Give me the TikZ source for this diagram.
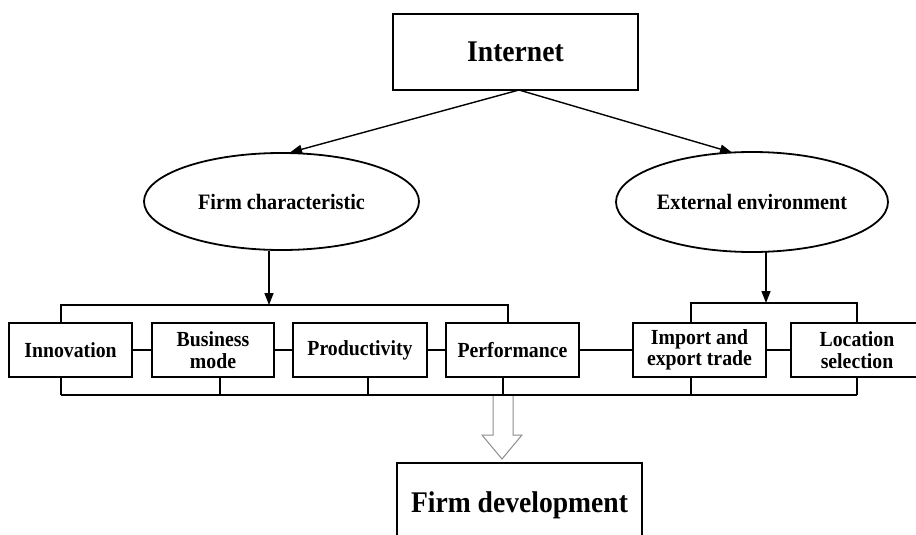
\documentclass[tikz,border=0pt]{standalone}
\usepackage{fontspec}
\setmainfont{Liberation Serif}[FakeStretch=0.92]
\usetikzlibrary{shapes.geometric,arrows.meta}
\tikzset{
  box/.style={draw, line width=2pt, rectangle, inner sep=0pt, align=center,
    font=\fontsize{21.5}{21.5}\selectfont\bfseries},
  bigbox/.style={draw, line width=2pt, rectangle, inner sep=0pt, align=center,
    font=\fontsize{30}{32}\selectfont\bfseries},
  oval/.style={draw, line width=1.8pt, ellipse, inner sep=0pt,
    font=\fontsize{22}{24}\selectfont\bfseries},
  link/.style={line width=1.5pt},
  arr/.style={line width=1.4pt, -{Triangle[length=12pt,width=9pt]}},
  hollow/.style={draw=black!45, line width=1pt, fill=white}
}
\begin{document}
\begin{tikzpicture}[x=1pt,y=-1pt]
\useasboundingbox (0,0) rectangle (916,535);
% top nodes
\node[bigbox, minimum width=245pt, minimum height=76pt] (internet) at (515.5,52) {Internet};
\node[oval, minimum width=275pt, minimum height=97pt] (fc) at (281.5,201.5) {Firm characteristic};
\node[oval, minimum width=272pt, minimum height=100pt] (ee) at (752,202) {External environment};
% row of boxes
\node[box, minimum width=123pt, minimum height=54pt] (innov) at (70.5,350) {Innovation};
\node[box, minimum width=122pt, minimum height=54pt] (bm) at (213,350) {Business\\mode};
\node[box, minimum width=134pt, minimum height=54pt] (prod) at (360,350) {Productivity};
\node[box, minimum width=133pt, minimum height=54pt] (perf) at (512.5,350) {Performance};
\node[box, minimum width=133pt, minimum height=54pt] (iet) at (699.5,350) {Import and\\export trade};
\node[box, minimum width=132pt, minimum height=54pt] (loc) at (857,350) {Location\\selection};
% bottom node
\node[bigbox, minimum width=245pt, minimum height=84pt] (fd) at (519.5,505) {\raisebox{4pt}{Firm development}};
% coordinates
\coordinate (ito) at (519,90);
\coordinate (fcin) at (290,152.5);
\coordinate (eein) at (732,152.5);
\coordinate (fcout) at (269,250.5);
\coordinate (fcbr) at (269,305);
\coordinate (eeout) at (766,252);
\coordinate (eebr) at (766,303);
\coordinate (tl1) at (61,305);
\coordinate (tl2) at (508,305);
\coordinate (tr1) at (691,303);
\coordinate (tr2) at (857,303);
\coordinate (b1) at (61,395);
\coordinate (b2) at (857,395);
% arrows from Internet
\draw[arr] (ito) -- (fcin);
\draw[arr] (ito) -- (eein);
\draw[arr] (fcout) -- (fcbr);
\draw[arr] (eeout) -- (eebr);
% top brackets
\draw[link] (innov.north -| tl1) -- (tl1) -- (tl2) -- (perf.north -| tl2);
\draw[link] (iet.north -| tr1) -- (tr1) -- (tr2) -- (loc.north -| tr2);
% side connectors
\draw[link] (innov.east) -- (bm.west);
\draw[link] (bm.east) -- (prod.west);
\draw[link] (prod.east) -- (perf.west);
\draw[link] (perf.east) -- (iet.west);
\draw[link] (iet.east) -- (loc.west);
% bottom bracket
\draw[link] (b1) -- (b2);
\draw[link] (innov.south -| b1) -- (b1);
\draw[link] (bm.south -| 220,0) -- (220,395);
\draw[link] (prod.south -| 368,0) -- (368,395);
\draw[link] (perf.south -| 503,0) -- (503,395);
\draw[link] (iet.south -| 691,0) -- (691,395);
\draw[link] (loc.south -| b2) -- (b2);
% hollow arrow
\draw[hollow] (493,396) -- (493,435) -- (482,435) -- (502,459) -- (522,435) -- (513,435) -- (513,396);
\end{tikzpicture}
\end{document}
